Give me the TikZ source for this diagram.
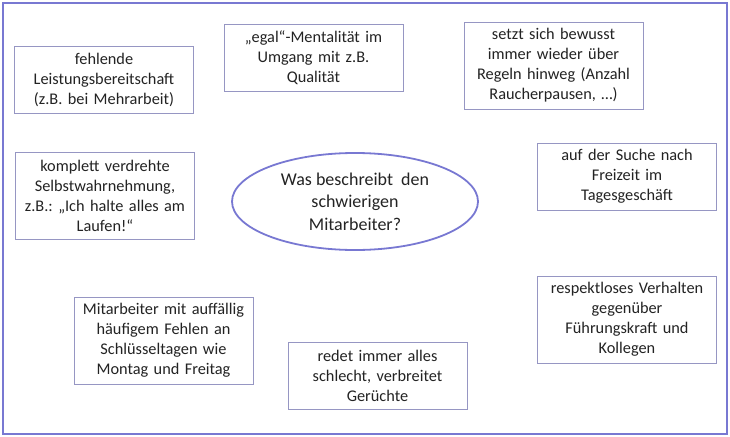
\documentclass[tikz,border=0pt]{standalone}
\usepackage{fontspec}
\setmainfont{Carlito}
\usepackage{tikz}
\usetikzlibrary{shapes.geometric}
\definecolor{framecol}{RGB}{120,120,210}
\definecolor{boxcol}{RGB}{150,150,195}
\definecolor{textcol}{RGB}{35,35,35}
\frenchspacing

\begin{document}
\begin{tikzpicture}[x=1pt, y=-1pt,
    idea/.style={draw=boxcol, line width=0.8pt, fill=white, text=textcol, align=center,
      minimum width=179pt, text width=175pt, inner xsep=2pt, inner ysep=0pt,
      font=\fontsize{16.3}{20}\selectfont},
    three/.style={idea, minimum height=67pt},
    four/.style={idea, minimum height=87pt},
    question/.style={ellipse, draw=framecol, line width=1.8pt, text=textcol, align=center,
      minimum width=246pt, minimum height=97pt, inner sep=0pt,
      font=\fontsize{18}{22.5}\selectfont}]
  \useasboundingbox (0,0) rectangle (730,436);
  \draw[framecol, line width=2.2pt] (3,3) rectangle (727,434);

  \node[question] (q) at (355,201.5) {Was beschreibt\ \ den\\ schwierigen\\ Mitarbeiter?};

  \node[three] (leistung) at (104,79.5)   {fehlende\\ Leistungsbereitschaft\\ (z.B. bei Mehrarbeit)};
  \node[three] (egal)     at (313.5,57.5) {„egal“-Mentalität im\\ Umgang mit z.B.\\ Qualität};
  \node[four]  (regeln)   at (553.5,65.5) {setzt sich bewusst\\ immer wieder über\\ Regeln hinweg (Anzahl\\ Raucherpausen, …)};
  \node[four]  (selbst)   at (105,195.5)  {komplett verdrehte\\ Selbstwahrnehmung,\\ z.B.: „Ich halte alles am\\ Laufen!“};
  \node[three] (freizeit) at (627,176.5)  {auf der Suche nach\\ Freizeit im\\ Tagesgeschäft};
  \node[four]  (respekt)  at (627,319.5)  {respektloses Verhalten\\ gegenüber\\ Führungskraft und\\ Kollegen};
  \node[four]  (fehlen)   at (163.5,340.5) {Mitarbeiter mit auffällig\\ häufigem Fehlen an\\ Schlüsseltagen wie\\ Montag und Freitag};
  \node[three] (geruecht) at (377.5,376)  {redet immer alles\\ schlecht, verbreitet\\ Gerüchte};
\end{tikzpicture}
\end{document}
